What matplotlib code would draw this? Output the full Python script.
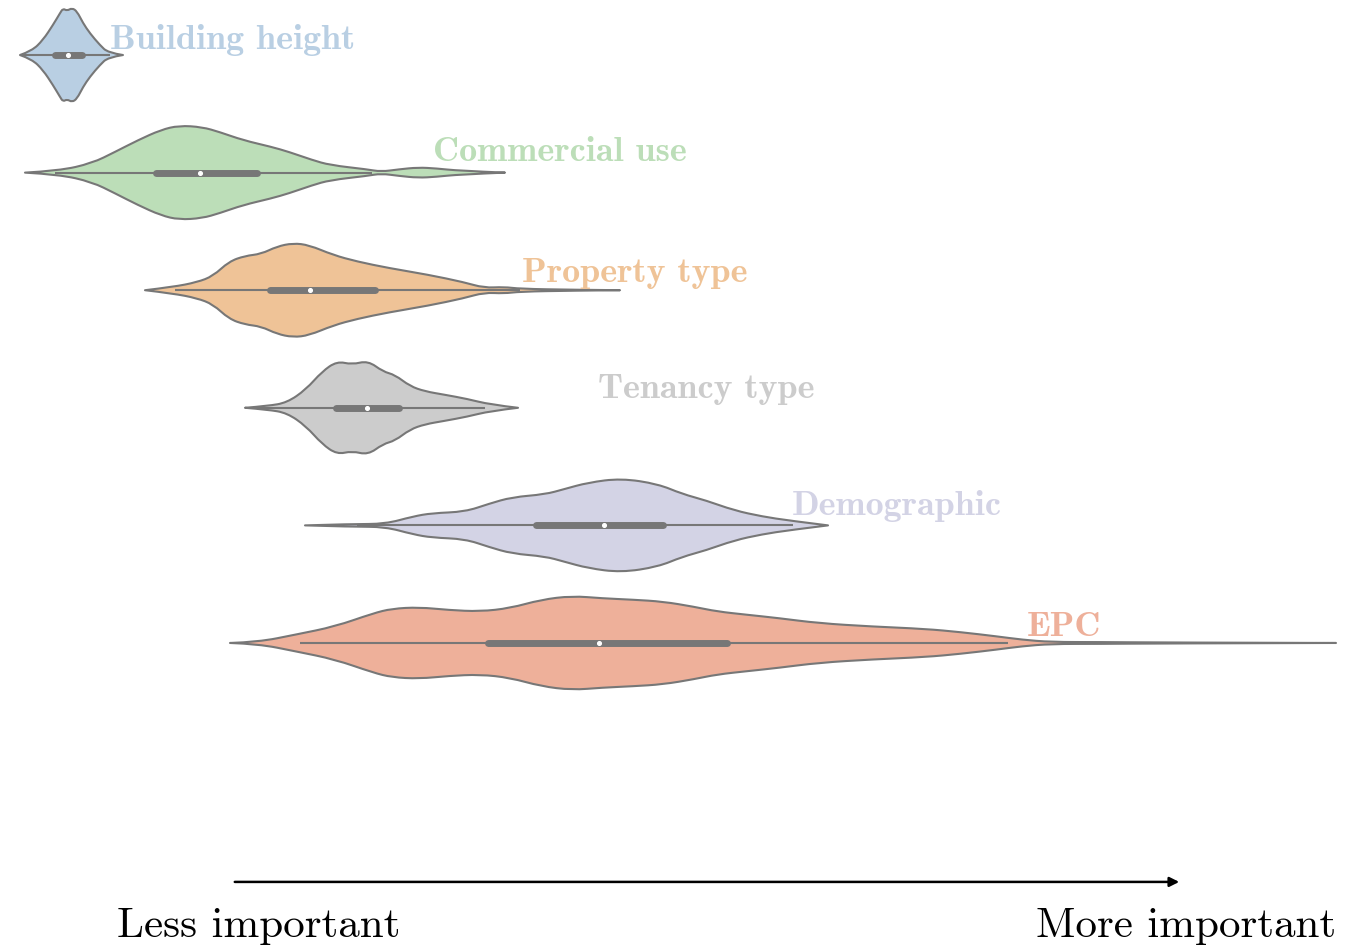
import numpy as np
import matplotlib
matplotlib.use('Agg')
from matplotlib import pyplot as plt
from matplotlib.path import Path
from matplotlib.patches import PathPatch

# feature groups, top to bottom
features = ['Building height', 'Commercial use', 'Property type',
            'Tenancy type', 'Demographic', 'EPC']
colors = ['#b9cfe3', '#bcdeb8', '#efc397', '#cccccc', '#d3d3e5', '#eeb09a']

# density outlines: importance values and relative half-width
bh_x = [20, 32, 43, 53, 60, 63, 67, 72, 77, 83, 90, 100, 108, 123]
bh_f = [0, 0.09, 0.32, 0.64, 0.89, 0.99, 0.94, 1.0, 0.93, 0.68, 0.46, 0.21, 0.05, 0]

cu_x = [25, 59, 92, 115, 138, 161, 179, 202, 220, 243, 271, 289, 312, 330, 367, 381, 399, 418, 436, 459, 505]
cu_f = [0, 0.04, 0.2, 0.44, 0.69, 0.91, 1.0, 0.97, 0.86, 0.69, 0.55, 0.44, 0.27, 0.16, 0.07, 0.02, 0.07, 0.11, 0.09, 0.04, 0]

pt_x = [145, 173, 197, 213, 229, 245, 261, 277, 293, 309, 333, 357, 389, 428, 464, 484, 504, 520, 572, 620]
pt_f = [0, 0.07, 0.17, 0.30, 0.61, 0.73, 0.77, 0.93, 1.0, 0.96, 0.75, 0.61, 0.47, 0.33, 0.17, 0.05, 0.07, 0.03, 0.01, 0]

tt_x = [245, 268, 287, 306, 322, 337, 352, 368, 383, 395, 410, 425, 444, 467, 490, 518]
tt_f = [0, 0.04, 0.11, 0.39, 0.77, 0.99, 0.92, 1.0, 0.77, 0.70, 0.46, 0.35, 0.28, 0.19, 0.07, 0]

dm_x = [305, 352, 385, 413, 432, 465, 489, 512, 545, 564, 588, 621, 658, 682, 706, 734, 762, 790, 828]
dm_f = [0, 0.03, 0.03, 0.19, 0.26, 0.29, 0.46, 0.60, 0.66, 0.77, 0.91, 1.0, 0.88, 0.67, 0.53, 0.32, 0.19, 0.10, 0]

epc_x = [230, 258, 296, 335, 373, 392, 419, 449, 480, 510, 541, 572, 602, 633, 663, 694, 717, 747, 778,
         819, 872, 925, 961, 997, 1022, 1051, 1100, 1158, 1336]
epc_f = [0, 0.02, 0.18, 0.35, 0.63, 0.73, 0.76, 0.70, 0.67, 0.74, 0.92, 1.0, 0.95, 0.92, 0.88, 0.77, 0.67, 0.60, 0.53,
         0.42, 0.35, 0.30, 0.23, 0.14, 0.07, 0.02, 0.02, 0.01, 0]

# box stats: whisker low, q1, median, q3, whisker high
whisk_lo = [20, 55, 175, 257, 357, 300]
q1 = [55, 156, 270, 336, 536, 488]
median = [68, 200, 310, 367, 604, 599]
q3 = [82, 257, 375, 399, 663, 727]
whisk_hi = [110, 372, 520, 485, 793, 1008]

profiles = [(bh_x, bh_f), (cu_x, cu_f), (pt_x, pt_f), (tt_x, tt_f), (dm_x, dm_f), (epc_x, epc_f)]

# label placement
label_x = [110, 433, 522, 598, 792, 1027]
label_dy = [-0.05, -0.096, -0.07, -0.085, -0.085, -0.06]

gray = '#777777'
half = 0.4


def smooth_side(xs, ys):
    # quadratic curves through midpoints, ends pinned at the tips
    pts = np.column_stack([xs, ys])
    verts = [pts[0]]
    codes = [Path.LINETO]
    for k in range(1, len(pts) - 1):
        mid = (pts[k] + pts[k + 1]) / 2 if k < len(pts) - 2 else pts[k + 1]
        verts += [pts[k], mid]
        codes += [Path.CURVE3, Path.CURVE3]
    return verts, codes


fig = plt.figure(figsize=(13.63, 9.46), dpi=100)
ax = fig.add_axes([0, 0, 1, 1])

for i, (xs, fs) in enumerate(profiles):
    xs = np.array(xs, dtype=float)
    fs = np.array(fs, dtype=float) * half
    v1, c1 = smooth_side(xs, i - fs)
    v2, c2 = smooth_side(xs[::-1], (i + fs)[::-1])
    c1[0] = Path.MOVETO
    verts = v1 + v2[1:] + [v1[0]]
    codes = c1 + c2[1:] + [Path.CLOSEPOLY]
    patch = PathPatch(Path(verts, codes), facecolor=colors[i], edgecolor=gray,
                      linewidth=1.5, joinstyle='round', zorder=1)
    ax.add_patch(patch)
    ax.hlines(i, whisk_lo[i], whisk_hi[i], color=gray, linewidth=1.5, zorder=2)
    ax.plot([q1[i], q3[i]], [i, i], color=gray, linewidth=5, solid_capstyle='round', zorder=3)
    ax.scatter([median[i]], [i], s=7, color='white', zorder=4)
    ax.text(label_x[i], i + label_dy[i], features[i], color=colors[i], fontfamily='cmb10',
            fontsize=26, ha='left', va='baseline')

ax.set_xlim(0, 1363)
ax.set_ylim(7.577, -0.468)
ax.axis('off')

ax.annotate('', xy=(1182, 7.032), xytext=(232, 7.032),
            arrowprops=dict(arrowstyle='-|>', color='black', linewidth=1.8, mutation_scale=14))

fig.text(117 / 1363, 9 / 946, 'Less important', fontfamily='cmr10', fontsize=31, ha='left', va='baseline')
fig.text(1336 / 1363, 9 / 946, 'More important', fontfamily='cmr10', fontsize=31, ha='right', va='baseline')

fig.savefig('out.png', dpi=100)
